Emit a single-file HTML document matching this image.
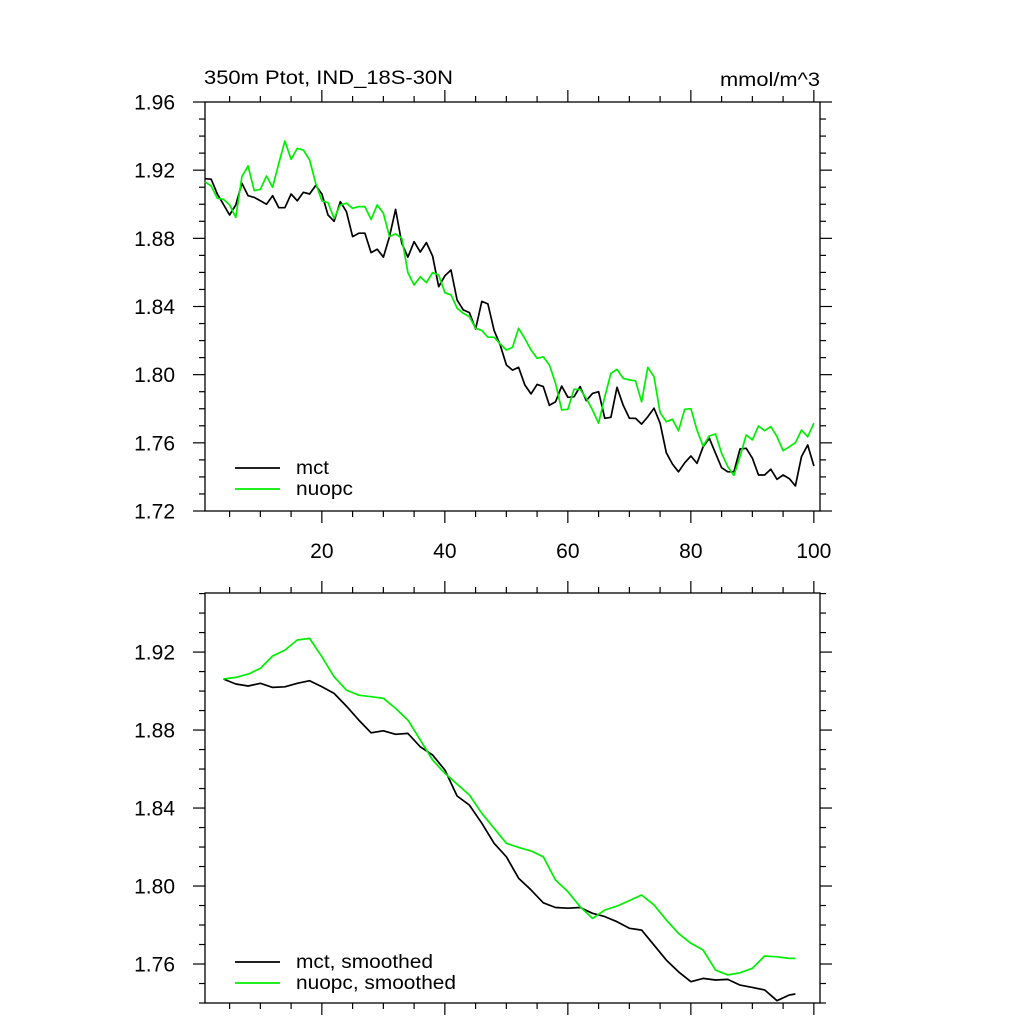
<!DOCTYPE html>
<html><head><meta charset="utf-8"><style>
html,body{margin:0;padding:0;background:#fff;}
svg{display:block;font-family:"Liberation Sans",Arial,sans-serif;}
</style></head><body>
<svg id="chart" width="1024" height="1024" viewBox="0 0 1024 1024"></svg>
<script>
const xTop = Array.from({length:100},(_,i)=>i+1);
const mctRaw = [1.915,1.9147,1.906,1.900,1.8937,1.8996,1.9123,1.905,1.904,1.902,1.900,1.905,1.898,1.898,1.906,1.902,1.907,1.906,1.911,1.906,
1.8937,1.890,1.9015,1.8957,1.881,1.883,1.883,1.8716,1.8736,1.869,1.881,1.897,1.877,1.869,1.878,1.872,1.8775,1.8696,1.8516,1.858,
1.8614,1.8438,1.838,1.8364,1.8268,1.843,1.8415,1.826,1.8174,1.8057,1.8027,1.8043,1.794,1.7887,1.7943,1.793,1.782,1.784,1.7933,1.7867,
1.787,1.793,1.7847,1.789,1.790,1.7744,1.775,1.7926,1.782,1.7744,1.7744,1.771,1.7753,1.7803,1.7715,1.7542,1.7476,1.743,1.7483,1.7523,
1.748,1.7577,1.7627,1.7539,1.7454,1.743,1.743,1.7564,1.7568,1.751,1.7411,1.7411,1.7445,1.7386,1.7411,1.739,1.7347,1.7519,1.7587,1.7464];
const nuopcRaw = [1.9132,1.9107,1.9035,1.9029,1.8996,1.8923,1.9162,1.9225,1.908,1.9088,1.9166,1.910,1.924,1.9371,1.9264,1.9328,1.9318,1.926,1.9123,1.902,
1.9009,1.8917,1.8996,1.9006,1.8976,1.8986,1.8986,1.8911,1.8996,1.8947,1.881,1.8826,1.880,1.8599,1.8526,1.8575,1.854,1.8599,1.8585,1.8481,
1.8468,1.839,1.836,1.834,1.8272,1.826,1.822,1.822,1.818,1.8145,1.816,1.8272,1.8213,1.8145,1.8096,1.8105,1.8057,1.795,1.7793,1.7797,
1.7914,1.7914,1.7861,1.7793,1.7715,1.787,1.8008,1.8031,1.7978,1.7969,1.7964,1.7841,1.8043,1.7988,1.7777,1.7724,1.7738,1.7671,1.7797,1.780,
1.7675,1.7581,1.764,1.7652,1.7539,1.746,1.7409,1.7519,1.7646,1.7617,1.7699,1.7671,1.7695,1.7636,1.7554,1.7577,1.7601,1.7675,1.7636,1.7715];
const xSm = [4,6,8,10,12,14,16,18,20,22,24,26,28,30,32,34,36,38,40,42,44,46,48,50,52,54,56,58,60,62,64,66,68,70,72,74,76,78,80,82,84,86,88,90,92,94,96,97];
const mctSm = [1.9062,1.9036,1.9026,1.904,1.9019,1.9022,1.904,1.9053,1.9022,1.8988,1.8923,1.8851,1.8786,1.8796,1.8778,1.8783,1.8714,1.8672,1.8595,1.8462,
1.8415,1.8322,1.8219,1.815,1.804,1.798,1.7914,1.789,1.7886,1.789,1.786,1.7843,1.7817,1.7783,1.7774,1.7697,1.762,1.756,1.7509,1.7526,
1.7518,1.7521,1.7492,1.748,1.7467,1.7412,1.7441,1.7446];
const nuopcSm = [1.9062,1.907,1.9087,1.9116,1.918,1.921,1.9262,1.927,1.9176,1.9073,1.9005,1.8979,1.8971,1.8963,1.8911,1.8851,1.8749,1.8646,1.8578,1.8523,
1.8467,1.8373,1.8296,1.8219,1.8198,1.818,1.815,1.8031,1.7971,1.7894,1.7834,1.7877,1.7897,1.7925,1.7954,1.7903,1.7826,1.7757,1.7706,1.7672,
1.7569,1.7544,1.7555,1.7578,1.7641,1.7637,1.7629,1.7629];
const xTickLabels = [20,40,60,80,100];
const yTopTicks = [1.72,1.76,1.80,1.84,1.88,1.92,1.96];
const yBotTicks = [1.76,1.80,1.84,1.88,1.92];

const NS="http://www.w3.org/2000/svg";
const svg=document.getElementById('chart');
function mk(tag,attrs,parent){const e=document.createElementNS(NS,tag);for(const k in attrs)e.setAttribute(k,attrs[k]);(parent||svg).appendChild(e);return e;}
const L=205,R=820;
const xS=x=>L+(x-1)*(R-L)/100;

function panel(name,pTop,bot,ymin,ymax,yTicks,showXLabels){
  const g=mk('g',{});
  
  
  const yS=v=>bot-(v-ymin)*(bot-pTop)/(ymax-ymin);
  const f=mk('rect',{x:L,y:pTop,width:R-L,height:bot-pTop,fill:'none',stroke:'#000','stroke-width':1.3},g);
  
  
  const tg=mk('g',{stroke:'#000','stroke-width':1.2},g);
  
  
  for(let x=5;x<=100;x+=5){const px=xS(x);const len=(x%20===0)?12:6;
    mk('line',{x1:px,x2:px,y1:bot,y2:bot+len},tg);mk('line',{x1:px,x2:px,y1:pTop,y2:pTop-len},tg);}
  const n0=Math.ceil(ymin*100-1e-6),n1=Math.floor(ymax*100+1e-6);
  for(let n=n0;n<=n1;n++){const py=yS(n/100);const len=(n%4===0)?12:6;
    mk('line',{x1:L,x2:L-len,y1:py,y2:py},tg);mk('line',{x1:R,x2:R+len,y1:py,y2:py},tg);}
  yTicks.forEach(v=>{const t=mk('text',{x:175,y:yS(v)+7.5,'text-anchor':'end','font-size':21},g);t.textContent=v.toFixed(2);
    });
  if(showXLabels){xTickLabels.forEach(v=>{const t=mk('text',{x:xS(v),y:bot+47,'text-anchor':'middle','font-size':21},g);t.textContent=v;
    });}
  return {g,yS};
}
function line(g,xs,ys,yS,color,name){
  const d=xs.map((x,i)=>(i?'L':'M')+xS(x).toFixed(1)+' '+yS(ys[i]).toFixed(1)).join(' ');
  const p=mk('path',{d:d,fill:'none',stroke:color,'stroke-width':1.7,'stroke-linejoin':'round'},g);
  
  
}
function legend(g,y,label,color,name,w){
  const lg=mk('g',{},g);
  
  
  mk('line',{x1:235,x2:280,y1:y,y2:y,stroke:color,'stroke-width':1.7},lg);
  const t=mk('text',{x:296,y:y+6,'font-size':19,textLength:w,lengthAdjust:'spacingAndGlyphs'},lg);t.textContent=label;
}
const topP=panel('top-panel',102,511,1.72,1.96,yTopTicks,true);
line(topP.g,xTop,mctRaw,topP.yS,'#000','mct-line');
line(topP.g,xTop,nuopcRaw,topP.yS,'#00ee00','nuopc-line');
legend(topP.g,468,'mct','#000','legend-entry-mct',33);
legend(topP.g,489,'nuopc','#00ee00','legend-entry-nuopc',57);
const t1=mk('text',{x:204,y:84,'font-size':19,textLength:249,lengthAdjust:'spacingAndGlyphs'});t1.textContent='350m Ptot, IND_18S-30N';

const t2=mk('text',{x:720,y:86,'font-size':19,textLength:100,lengthAdjust:'spacingAndGlyphs'});t2.textContent='mmol/m^3';


const botP=panel('bottom-panel',593,1003,1.7400,1.9503,yBotTicks,false);
line(botP.g,xSm,mctSm,botP.yS,'#000','mct-smoothed-line');
line(botP.g,xSm,nuopcSm,botP.yS,'#00ee00','nuopc-smoothed-line');
legend(botP.g,962,'mct, smoothed','#000','legend-entry-mct-smoothed',137);
legend(botP.g,983,'nuopc, smoothed','#00ee00','legend-entry-nuopc-smoothed',160);
</script>
</body></html>
